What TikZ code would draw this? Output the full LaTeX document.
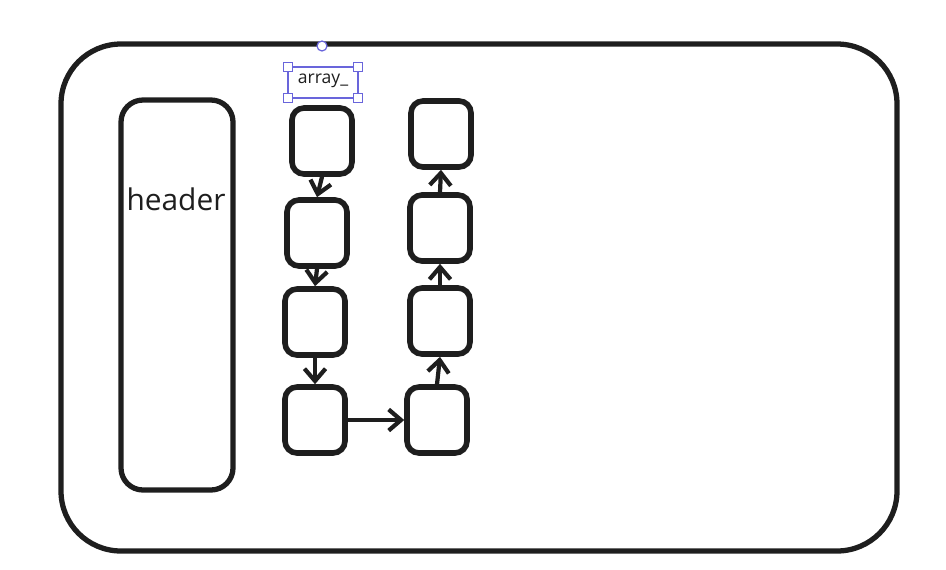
\documentclass[tikz,border=0pt]{standalone}
\usepackage{fontspec}
\setmainfont{Open Sans}
\usetikzlibrary{arrows.meta}
\definecolor{selblue}{RGB}{105,101,219}
\definecolor{ink}{RGB}{30,30,30}
\tikzset{
  cell/.style={draw=ink, line width=3.2pt, rounded corners=0.24cm,
    minimum width=1.2cm, minimum height=1.32cm, inner sep=0pt},
  link/.style={draw=ink, line width=2.4pt, -{Straight Barb[length=7pt, width=12pt, line width=2.4pt]}},
  handle/.style={draw=selblue, fill=white, line width=0.7pt}
}
\begin{document}
\begin{tikzpicture}[x=0.02cm, y=-0.02cm, every node/.style={font=\large}]
    \useasboundingbox (0,0) rectangle (946,569);

    % Рамка
    \draw[ink, line width=3pt, rounded corners=1.2cm] (61,44) rectangle (897,551);

    % Заголовок
    \draw[ink, line width=3pt, rounded corners=0.44cm] (121,100) rectangle (233,490);
    \node[font=\fontsize{17}{20}\selectfont, text=ink] (hdr) at (176,199) {header};

    % Левый столбец
    \node[cell] (L1) at (322,141) {};
    \node[cell] (L2) at (317,233) {};
    \node[cell] (L3) at (315,322) {};
    \node[cell] (L4) at (315,420) {};

    % Правый столбец
    \node[cell] (R1) at (441,134) {};
    \node[cell] (R2) at (440,228) {};
    \node[cell] (R3) at (440,321) {};
    \node[cell] (R4) at (437,420) {};

    % Стрелки
    \draw[link] (L1.south) -- (L2.north);
    \draw[link] (L2.south) -- (L3.north);
    \draw[link] (L3.south) -- (L4.north);
    \draw[link] (L4.east) -- (R4.west);
    \draw[link] (R4.north) -- (R3.south);
    \draw[link] (R3.north) -- (R2.south);
    \draw[link] (R2.north) -- (R1.south);

    % Подпись с рамкой выделения
    \node[font=\fontsize{10}{12}\selectfont, text=ink] (arr) at (323,81) {array\_};
    \draw[selblue, line width=0.7pt] (288,67) rectangle (358,98);
    \foreach \x/\y in {288/67, 358/67, 288/98, 358/98}
        \draw[handle] (\x-4.5,\y-4.5) rectangle (\x+4.5,\y+4.5);
    \draw[handle] (322,46) circle (5);
\end{tikzpicture}
\end{document}
